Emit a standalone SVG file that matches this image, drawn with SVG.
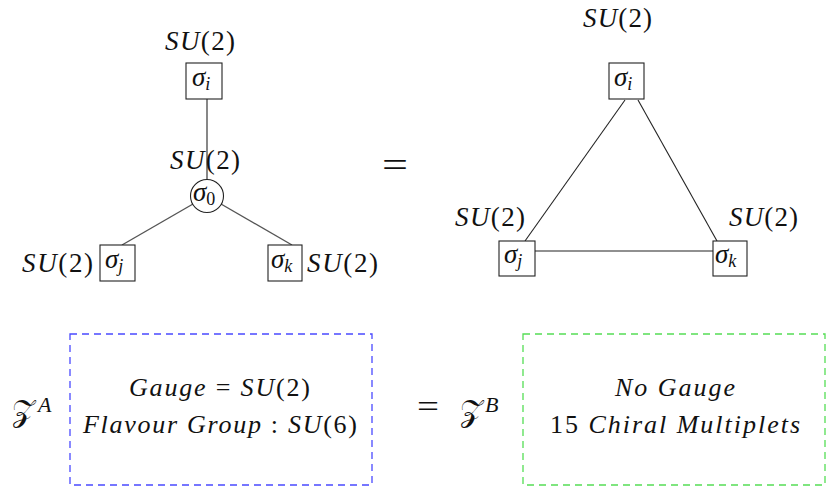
<svg xmlns="http://www.w3.org/2000/svg" width="826" height="488" viewBox="0 0 826 488">
<style>
text{font-family:'Liberation Serif','Times New Roman',serif;fill:#111;}
.it{font-style:italic;}
.lbl{font-size:27px;}
.sig{font-size:27px;font-style:italic;}
.sub{font-size:18px;font-style:italic;}
.subn{font-size:18px;font-style:normal;}
.node{fill:#fff;stroke:#222;stroke-width:1.1;}
.edgeL{stroke:#555;stroke-width:1.4;fill:none;}
.edgeR{stroke:#222;stroke-width:1.1;fill:none;}
.body{font-size:26px;}
.z{font-size:30px;font-family:'DejaVu Serif','Liberation Serif',serif;}
.sup{font-size:22px;font-style:italic;}
</style>
<rect width="826" height="488" fill="#fff"/>

<g id="connectors">
  <line class="edgeL" x1="207" y1="99" x2="207" y2="180"/>
  <line class="edgeL" x1="193" y1="204" x2="122" y2="245"/>
  <line class="edgeL" x1="221" y1="204" x2="292" y2="245"/>
  <line class="edgeR" x1="625" y1="100" x2="525" y2="241"/>
  <line class="edgeR" x1="638" y1="100" x2="717" y2="241"/>
  <line class="edgeR" x1="535" y1="251" x2="713" y2="251"/>
</g>

<g id="L-sigma-i">
  <rect class="node" x="186" y="63" width="36" height="36"/>
  <text x="192" y="86"><tspan class="sig">σ</tspan><tspan class="sub" dy="4">i</tspan></text>
  <text class="lbl" x="165" y="50" textLength="70" lengthAdjust="spacing"><tspan class="it">SU</tspan>(2)</text>
</g>
<g id="L-sigma-0">
  <circle class="node" cx="207" cy="196" r="16.5"/>
  <text x="193" y="201"><tspan class="sig">σ</tspan><tspan class="subn" dy="4">0</tspan></text>
  <text class="lbl" x="170" y="169" textLength="70" lengthAdjust="spacing"><tspan class="it">SU</tspan>(2)</text>
</g>
<g id="L-sigma-j">
  <rect class="node" x="100" y="245" width="35" height="36"/>
  <text x="105" y="268"><tspan class="sig">σ</tspan><tspan class="sub" dy="4">j</tspan></text>
  <text class="lbl" x="22" y="272" textLength="71" lengthAdjust="spacing"><tspan class="it">SU</tspan>(2)</text>
</g>
<g id="L-sigma-k">
  <rect class="node" x="268" y="245" width="34" height="36"/>
  <text x="271" y="268"><tspan class="sig">σ</tspan><tspan class="sub" dy="4">k</tspan></text>
  <text class="lbl" x="307" y="272" textLength="71" lengthAdjust="spacing"><tspan class="it">SU</tspan>(2)</text>
</g>

<text x="382" y="177" font-size="36" textLength="26" lengthAdjust="spacingAndGlyphs">=</text>

<g id="R-sigma-i">
  <rect class="node" x="609" y="63" width="35" height="36"/>
  <text x="614" y="86"><tspan class="sig">σ</tspan><tspan class="sub" dy="4">i</tspan></text>
  <text class="lbl" x="583" y="27" textLength="69" lengthAdjust="spacing"><tspan class="it">SU</tspan>(2)</text>
</g>
<g id="R-sigma-j">
  <rect class="node" x="499" y="241" width="36" height="35"/>
  <text x="504" y="263"><tspan class="sig">σ</tspan><tspan class="sub" dy="4">j</tspan></text>
  <text class="lbl" x="455" y="226" textLength="70" lengthAdjust="spacing"><tspan class="it">SU</tspan>(2)</text>
</g>
<g id="R-sigma-k">
  <rect class="node" x="713" y="241" width="34" height="35"/>
  <text x="715" y="263"><tspan class="sig">σ</tspan><tspan class="sub" dy="4">k</tspan></text>
  <text class="lbl" x="729" y="226" textLength="69" lengthAdjust="spacing"><tspan class="it">SU</tspan>(2)</text>
</g>

<g id="ZA">
  <text x="12" y="421"><tspan class="z">𝒵</tspan></text>
  <text class="sup" x="38" y="412">A</text>
</g>
<g id="boxA">
  <rect x="70" y="334" width="302" height="151" fill="none" stroke="#4a4aff" stroke-width="1.3" stroke-dasharray="7 5"/>
  <text class="body" x="129" y="396" textLength="181" lengthAdjust="spacing"><tspan class="it">Gauge</tspan> = <tspan class="it">SU</tspan>(2)</text>
  <text class="body" x="83" y="433" textLength="274" lengthAdjust="spacing"><tspan class="it">Flavour Group</tspan> : <tspan class="it">SU</tspan>(6)</text>
</g>

<text x="417" y="417" font-size="32" textLength="22" lengthAdjust="spacingAndGlyphs">=</text>

<g id="ZB">
  <text x="460" y="421"><tspan class="z">𝒵</tspan></text>
  <text class="sup" x="485" y="412">B</text>
</g>
<g id="boxB">
  <rect x="523" y="334" width="302" height="151" fill="none" stroke="#55dd55" stroke-width="1.3" stroke-dasharray="7 5"/>
  <text class="body it" x="615" y="396" textLength="120" lengthAdjust="spacing">No Gauge</text>
  <text class="body" x="550" y="433" textLength="250" lengthAdjust="spacing">15 <tspan class="it">Chiral Multiplets</tspan></text>
</g>
</svg>
